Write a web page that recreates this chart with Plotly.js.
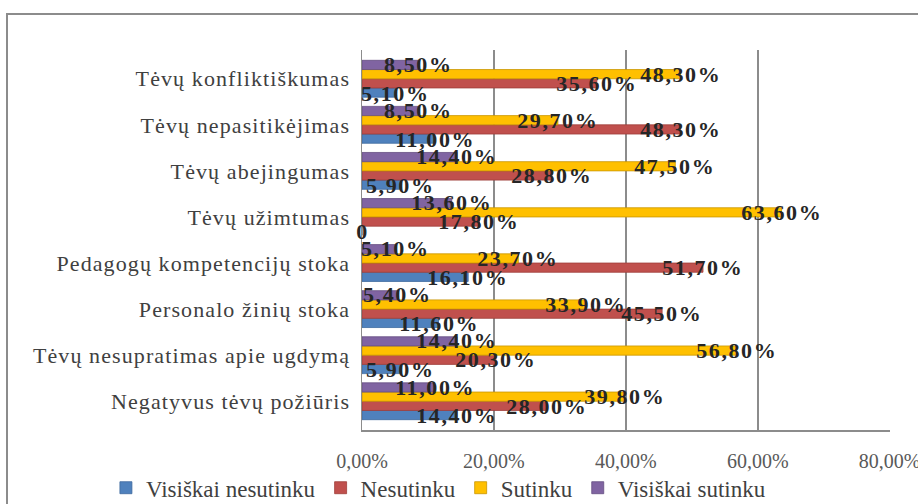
<!DOCTYPE html>
<html>
<head>
<meta charset="utf-8">
<script src="https://cdn.plot.ly/plotly-3.0.1.min.js"></script>
<style>
html,body{margin:0;padding:0;background:#fff;}
#wrap{position:relative;width:918px;height:504px;overflow:hidden;}
#frame{position:absolute;left:6px;top:13px;width:940px;height:520px;border:2px solid #8c8c8c;box-sizing:border-box;}
#chart{position:absolute;left:0;top:0;width:918px;height:504px;}
#chart .ytick text{letter-spacing:1.1px;}
#chart .annotation-text{letter-spacing:1.6px;}
</style>
</head>
<body>
<div id="wrap"><div id="frame"></div><div id="chart"></div></div>
<script>
// Categories, top to bottom as in the picture
const categories = [
  "Tėvų konfliktiškumas",
  "Tėvų nepasitikėjimas",
  "Tėvų abejingumas",
  "Tėvų užimtumas",
  "Pedagogų kompetencijų stoka",
  "Personalo žinių stoka",
  "Tėvų nesupratimas apie ugdymą",
  "Negatyvus tėvų požiūris"
];
const seriesNames = ["Visiškai nesutinku", "Nesutinku", "Sutinku", "Visiškai sutinku"];
const visiskaiNesutinku = [5.10, 11.00, 5.90, 0, 16.10, 11.60, 5.90, 14.40];
const nesutinku         = [35.60, 48.30, 28.80, 17.80, 51.70, 45.50, 20.30, 28.00];
const sutinku           = [48.30, 29.70, 47.50, 63.60, 23.70, 33.90, 56.80, 39.80];
const visiskaiSutinku   = [8.50, 8.50, 14.40, 13.60, 5.10, 5.40, 14.40, 11.00];
const xTickVals  = [0, 0.2, 0.4, 0.6, 0.8];
const xTickText  = ["0,00%", "20,00%", "40,00%", "60,00%", "80,00%"];

const seriesValues = [visiskaiNesutinku, nesutinku, sutinku, visiskaiSutinku];
const colors = ["#4F81BD", "#C0504D", "#FFC000", "#8064A2"];
const edgeColors = ["#3d6a9e", "#9e3d3a", "#c99600", "#654e82"];

function fmt(v){ return v === 0 ? "0" : v.toFixed(2).replace(".", ",") + "%"; }

const traces = seriesValues.map((vals, i) => ({
  type: "bar",
  orientation: "h",
  name: seriesNames[i],
  y: categories,
  x: vals.map(v => v / 100),
  marker: {color: colors[i], line: {color: edgeColors[i], width: 0.8}},
  hoverinfo: "skip"
}));

// label offsets within group (px): blue bottom ... purple top
const barPx = 380 / categories.length * 0.8 / 4;
const annotations = [];
seriesValues.forEach((vals, i) => {
  vals.forEach((v, j) => {
    annotations.push({
      x: v / 100, y: categories[j], xref: "x", yref: "y",
      text: fmt(v), showarrow: false, xanchor: "center", yanchor: "middle",
      yshift: (i - 1.5) * barPx,
      font: {family: "Liberation Serif, Times New Roman, serif", size: 22, color: "#262626", weight: "bold"}
    });
  });
});

const layout = {
  width: 918, height: 504,
  margin: {l: 362, r: 28, t: 50, b: 74, autoexpand: false},
  paper_bgcolor: "rgba(0,0,0,0)",
  plot_bgcolor: "rgba(0,0,0,0)",
  barmode: "group",
  bargap: 0.2,
  bargroupgap: 0,
  font: {family: "Liberation Serif, Times New Roman, serif", color: "#404040"},
  xaxis: {
    range: [0, 0.8005],
    tickvals: xTickVals, ticktext: xTickText,
    showgrid: true, gridcolor: "#8c8c8c", gridwidth: 1.5,
    zeroline: false, showline: true, linecolor: "#8c8c8c", linewidth: 1.5,
    ticks: "", ticklabelstandoff: 12, ticklabeloverflow: "allow",
    tickfont: {size: 20, color: "#595959"},
    automargin: false
  },
  yaxis: {
    type: "category",
    categoryorder: "array",
    categoryarray: categories.slice().reverse(),
    showline: true, linecolor: "#8c8c8c", linewidth: 1.5,
    ticks: "", ticklabelstandoff: 6,
    tickfont: {size: 22, color: "#404040"},
    automargin: false
  },
  legend: {
    orientation: "h",
    x: -0.485, xanchor: "left", y: -0.152, yanchor: "middle",
    font: {size: 23, color: "#404040"}, traceorder: "normal",
    itemwidth: 30, tracegroupgap: 0
  },
  showlegend: true,
  annotations: annotations
};

Plotly.newPlot("chart", traces, layout, {displayModeBar: false, staticPlot: true});
</script>
</body>
</html>
